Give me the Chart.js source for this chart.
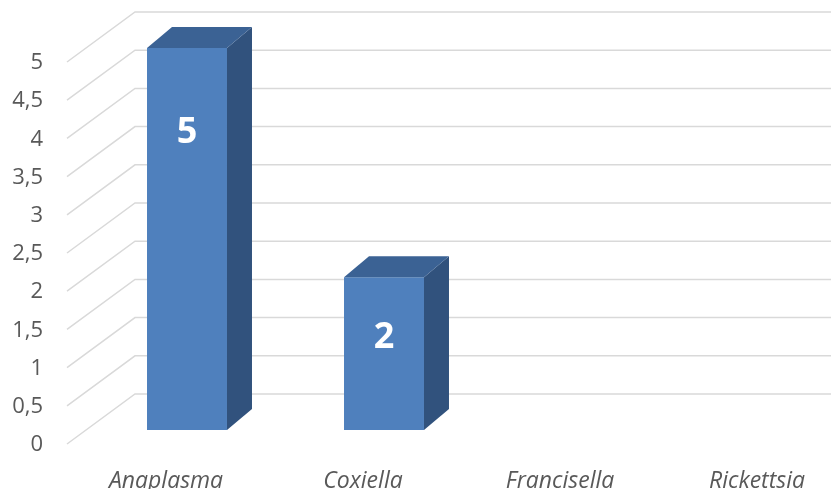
<!DOCTYPE html>
<html>
<head>
<meta charset="utf-8">
<script src="https://cdn.jsdelivr.net/npm/chart.js"></script>
<style>
  html, body { margin: 0; padding: 0; background: #fff; }
  canvas { display: block; }
</style>
</head>
<body>
<canvas id="chart" width="831" height="489"></canvas>
<script>
// data
const categories = ["Anaplasma", "Coxiella", "Francisella", "Rickettsia"];
const counts = [5, 2, 0, 0];
const yMin = 0;
const yMax = 5;
const yStep = 0.5;

// fake 3d look (pixels)
const DEPTH_X = 25, DEPTH_Y = -21;      // bar side / top
const GRID_FRONT_X = 67, GRID_BACK_X = 135;
const GRID_FRONT_DY = 14, GRID_BACK_DY = -36;

const FRONT = "#4f80bd";
const SIDE = "#31527d";
const TOP = "#3b6294";

const fake3d = {
  id: "fake3d",
  beforeDatasetsDraw(chart) {
    const ctx = chart.ctx;
    const y = chart.scales.y;
    ctx.save();
    ctx.strokeStyle = "#d9d9d9";
    ctx.lineWidth = 1.5;
    y.ticks.forEach((t) => {
      const py = y.getPixelForValue(t.value);
      ctx.beginPath();
      ctx.moveTo(GRID_FRONT_X, py + GRID_FRONT_DY);
      ctx.lineTo(GRID_BACK_X, py + GRID_BACK_DY);
      ctx.lineTo(chart.width, py + GRID_BACK_DY);
      ctx.stroke();
    });
    ctx.restore();
  },
  afterDatasetsDraw(chart) {
    const ctx = chart.ctx;
    const meta = chart.getDatasetMeta(0);
    ctx.save();
    meta.data.forEach((bar, i) => {
      if (!counts[i]) return;
      const p = bar.getProps(["x", "y", "base", "width"], true);
      const l = p.x - p.width / 2, r = p.x + p.width / 2;
      // side
      ctx.fillStyle = SIDE;
      ctx.beginPath();
      ctx.moveTo(r, p.y);
      ctx.lineTo(r + DEPTH_X, p.y + DEPTH_Y);
      ctx.lineTo(r + DEPTH_X, p.base + DEPTH_Y);
      ctx.lineTo(r, p.base);
      ctx.closePath();
      ctx.fill();
      // top
      ctx.fillStyle = TOP;
      ctx.beginPath();
      ctx.moveTo(l, p.y);
      ctx.lineTo(r, p.y);
      ctx.lineTo(r + DEPTH_X, p.y + DEPTH_Y);
      ctx.lineTo(l + DEPTH_X, p.y + DEPTH_Y);
      ctx.closePath();
      ctx.fill();
      // value label
      const h = p.base - p.y;
      ctx.fillStyle = "#ffffff";
      ctx.font = "bold 36px 'Open Sans', sans-serif";
      ctx.textAlign = "center";
      ctx.textBaseline = "middle";
      ctx.fillText(String(counts[i]), p.x, p.y + 45 + 0.105 * h);
    });
    ctx.restore();
  },
};

new Chart(document.getElementById("chart"), {
  type: "bar",
  data: {
    labels: categories,
    datasets: [
      {
        data: counts,
        backgroundColor: FRONT,
        borderWidth: 0,
        barPercentage: 0.406,
        categoryPercentage: 1,
        clip: false,
      },
    ],
  },
  options: {
    responsive: false,
    animation: false,
    layout: { padding: { left: 0, right: 53, top: 48, bottom: 0 } },
    plugins: {
      legend: { display: false },
      tooltip: { enabled: false },
    },
    scales: {
      x: {
        offset: false,
        grid: { display: false },
        border: { display: false },
        ticks: {
          color: "#595959",
          font: { family: "'Open Sans', sans-serif", size: 23, style: "italic" },
          labelOffset: -21,
          padding: 30,
          maxRotation: 0,
          autoSkip: false,
        },
        afterFit(s) {
          s.height = 59;
          s.paddingLeft = 0;
          s.paddingRight = 0;
        },
      },
      y: {
        min: yMin,
        max: yMax,
        grid: { display: false },
        border: { display: false },
        ticks: {
          stepSize: yStep,
          color: "#595959",
          font: { family: "'Open Sans', sans-serif", size: 22 },
          labelOffset: GRID_FRONT_DY + 1,
          padding: 136,
          callback: (v) => String(v).replace(".", ","),
        },
        afterFit(s) {
          s.width = 187;
          s.paddingTop = 0;
          s.paddingBottom = 0;
        },
      },
    },
  },
  plugins: [fake3d],
});
</script>
</body>
</html>
